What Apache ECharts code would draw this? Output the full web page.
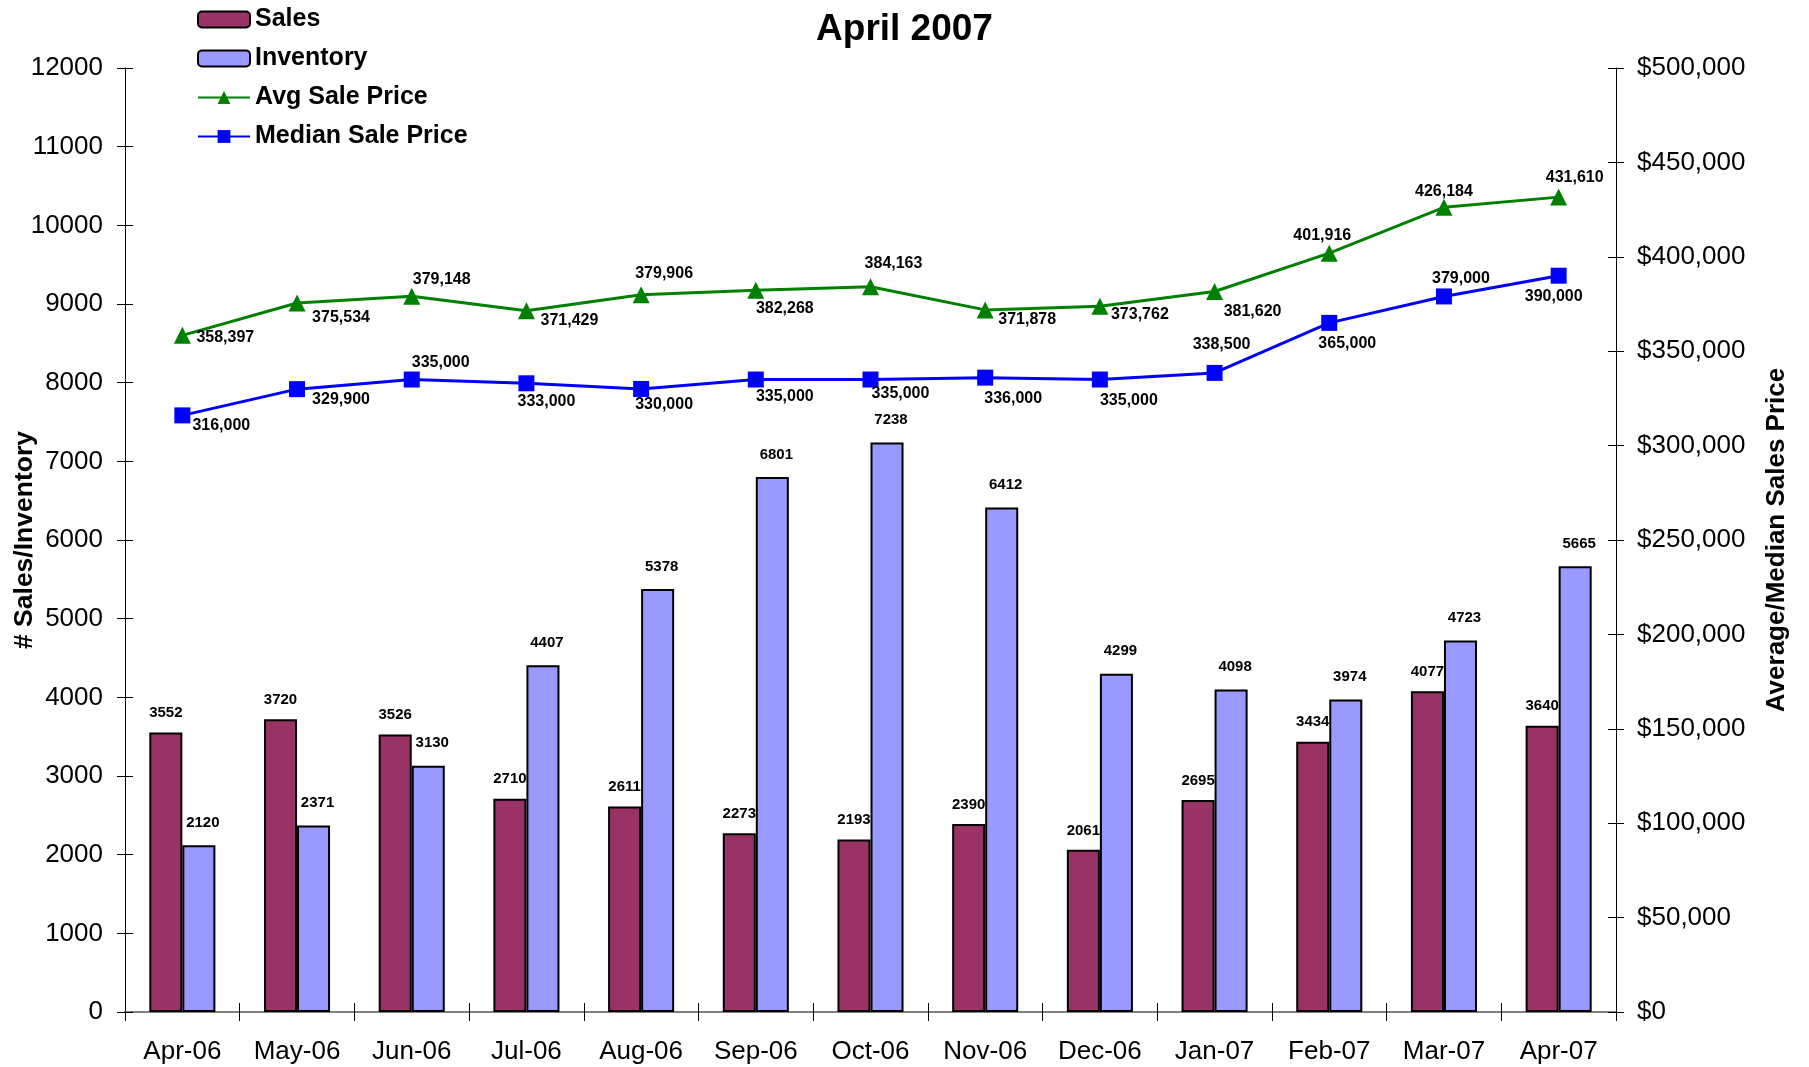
<!DOCTYPE html>
<html>
<head>
<meta charset="utf-8">
<script src="https://cdn.jsdelivr.net/npm/echarts@6/dist/echarts.min.js"></script>
<style>body{margin:0;background:#fff}</style>
</head>
<body>
<div id="main" style="width:1809px;height:1067px;"></div>
<script type="text/javascript">
    // 数据
    var months = ['Apr-06', 'May-06', 'Jun-06', 'Jul-06', 'Aug-06', 'Sep-06', 'Oct-06',
        'Nov-06', 'Dec-06', 'Jan-07', 'Feb-07', 'Mar-07', 'Apr-07'];
    var sales = [3552, 3720, 3526, 2710, 2611, 2273, 2193, 2390, 2061, 2695, 3434, 4077, 3640];
    var inventory = [2120, 2371, 3130, 4407, 5378, 6801, 7238, 6412, 4299, 4098, 3974, 4723, 5665];
    var avgPrice = [358397, 375534, 379148, 371429, 379906, 382268, 384163, 371878, 373762, 381620, 401916, 426184, 431610];
    var medianPrice = [316000, 329900, 335000, 333000, 330000, 335000, 335000, 336000, 335000, 338500, 365000, 379000, 390000];

    // 标签相对于点的偏移
    var avgLabelOffset = [[43, 2], [44, 15], [30, -17], [43, 10], [23, -21], [29, 18], [23, -23],
        [42, 10], [40, 8], [38, 20], [-7, -18], [0, -16], [16, -20]];
    var medianLabelOffset = [[39, 10], [44, 10], [29, -17], [20, 18], [23, 16], [29, 17], [30, 14],
        [28, 21], [29, 21], [7, -28], [18, 21], [17, -18], [-5, 21]];

    var font = 'Liberation Sans, Arial, sans-serif';

    function fmtThousands(v) {
        return String(v).replace(/\B(?=(\d{3})+(?!\d))/g, ',');
    }

    function lineData(values, offsets) {
        return values.map(function (v, i) {
            return { value: v, label: { offset: offsets[i] } };
        });
    }

    var myChart = echarts.init(document.getElementById('main'));

    var option = {
        animation: false,
        backgroundColor: '#fff',
        title: {
            text: 'April 2007',
            left: 'center',
            top: 6,
            textStyle: { fontFamily: font, fontSize: 37, fontWeight: 'bold', color: '#000' }
        },
        legend: {
            orient: 'vertical',
            left: 192,
            top: 2,
            itemWidth: 52,
            itemHeight: 16,
            itemGap: 14,
            textStyle: { fontFamily: font, fontSize: 25, fontWeight: 'bold', color: '#000' },
            data: ['Sales', 'Inventory', 'Avg Sale Price', 'Median Sale Price']
        },
        grid: { left: 125, right: 193, top: 68, bottom: 55, containLabel: false, outerBoundsMode: 'none' },
        xAxis: [{
            type: 'category',
            data: months,
            axisLine: { lineStyle: { color: '#808080', width: 2 } },
            axisTick: { show: true, length: 9, lineStyle: { color: '#000' } },
            axisLabel: { fontFamily: font, fontSize: 26, color: '#000', margin: 27 }
        }, {
            type: 'category',
            data: months,
            position: 'bottom',
            axisLine: { show: false },
            axisTick: { show: true, inside: true, length: 9, lineStyle: { color: '#000' } },
            axisLabel: { show: false }
        }],
        yAxis: [{
            type: 'value',
            min: 0, max: 12000, interval: 1000,
            name: '# Sales/Inventory',
            nameLocation: 'middle',
            nameGap: 87,
            nameMoveOverlap: false,
            nameTextStyle: { fontFamily: font, fontSize: 26.5, fontWeight: 'bold', color: '#000' },
            axisLine: { show: true, lineStyle: { color: '#000' } },
            axisTick: { show: true, length: 8, lineStyle: { color: '#000' } },
            axisLabel: {
                fontFamily: font, fontSize: 26, color: '#000', margin: 22,
                formatter: function (v) { return String(v); }
            },
            splitLine: { show: false }
        }, {
            type: 'value',
            min: 0, max: 500000, interval: 50000,
            position: 'right',
            name: 'Average/Median Sales Price',
            nameLocation: 'middle',
            nameGap: 148,
            nameRotate: 90,
            nameTextStyle: { fontFamily: font, fontSize: 26, fontWeight: 'bold', color: '#000' },
            axisLine: { show: true, lineStyle: { color: '#000' } },
            axisTick: { show: true, length: 8, lineStyle: { color: '#000' } },
            axisLabel: {
                fontFamily: font, fontSize: 26, color: '#000', margin: 21,
                formatter: function (v) { return '$' + fmtThousands(v); }
            },
            splitLine: { show: false }
        }, {
            type: 'value',
            min: 0, max: 12000, interval: 1000,
            position: 'left',
            axisLine: { show: false },
            axisTick: { show: true, inside: true, length: 8, lineStyle: { color: '#000' } },
            axisLabel: { show: false },
            splitLine: { show: false }
        }, {
            type: 'value',
            min: 0, max: 500000, interval: 50000,
            position: 'right',
            axisLine: { show: false },
            axisTick: { show: true, inside: true, length: 8, lineStyle: { color: '#000' } },
            axisLabel: { show: false },
            splitLine: { show: false }
        }],
        series: [{
            name: 'Sales',
            type: 'bar',
            yAxisIndex: 0,
            data: sales,
            barWidth: '28.8%',
            barGap: '0%',
            itemStyle: { color: '#993366', borderColor: '#000', borderWidth: 2 },
            label: {
                show: true, position: 'top', distance: 12,
                fontFamily: font, fontSize: 15, fontWeight: 'bold', color: '#000'
            }
        }, {
            name: 'Inventory',
            type: 'bar',
            yAxisIndex: 0,
            data: inventory,
            barWidth: '28.8%',
            barGap: '0%',
            itemStyle: { color: '#9999FF', borderColor: '#000', borderWidth: 2 },
            label: {
                show: true, position: 'top', distance: 15, offset: [4, 0],
                fontFamily: font, fontSize: 15, fontWeight: 'bold', color: '#000'
            }
        }, {
            name: 'Avg Sale Price',
            type: 'line',
            yAxisIndex: 1,
            data: lineData(avgPrice, avgLabelOffset),
            symbol: 'triangle',
            symbolSize: 17,
            lineStyle: { color: '#008000', width: 3 },
            itemStyle: { color: '#008000' },
            label: {
                show: true, position: 'inside',
                fontFamily: font, fontSize: 16, fontWeight: 'bold', color: '#000',
                formatter: function (p) { return fmtThousands(p.value); }
            }
        }, {
            name: 'Median Sale Price',
            type: 'line',
            yAxisIndex: 1,
            data: lineData(medianPrice, medianLabelOffset),
            symbol: 'rect',
            symbolSize: 16,
            lineStyle: { color: '#0000FF', width: 3 },
            itemStyle: { color: '#0000FF' },
            label: {
                show: true, position: 'inside',
                fontFamily: font, fontSize: 16, fontWeight: 'bold', color: '#000',
                formatter: function (p) { return fmtThousands(p.value); }
            }
        }]
    };

    myChart.setOption(option);
</script>
</body>
</html>
